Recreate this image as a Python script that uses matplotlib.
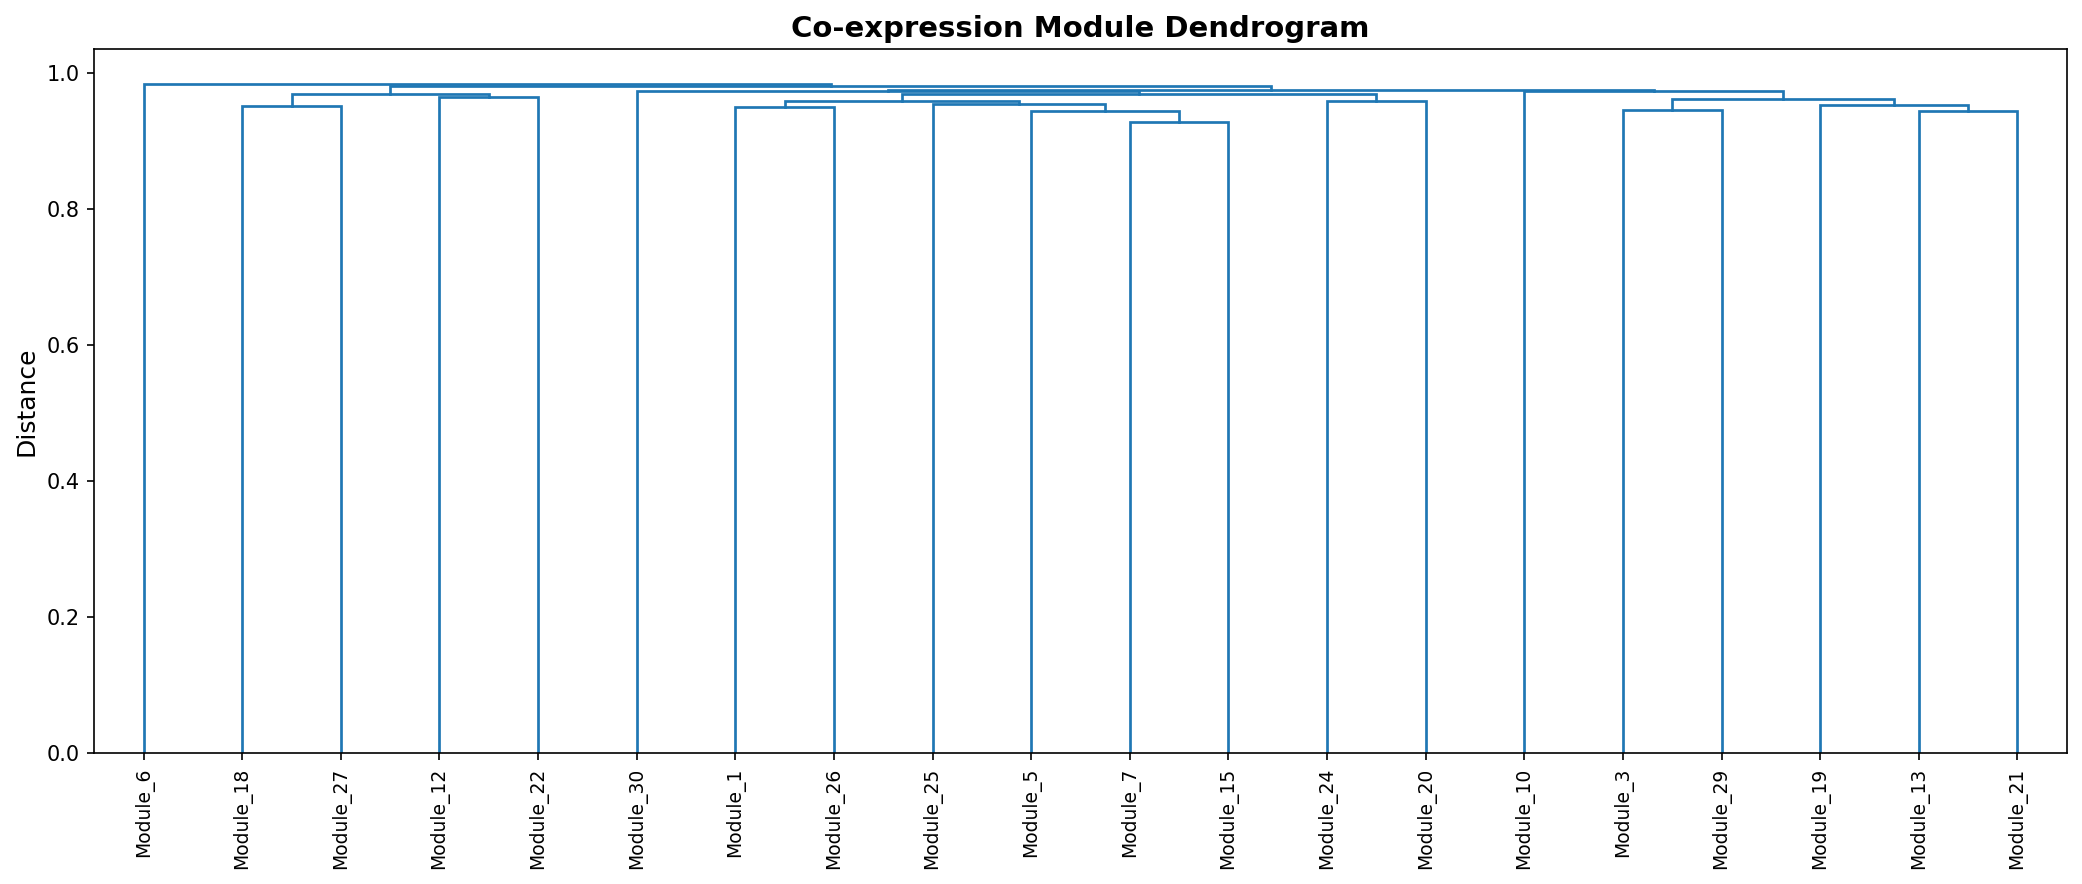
#!/usr/bin/env python3
# -*- coding: utf-8 -*-
import matplotlib

matplotlib.use("Agg")
import matplotlib.pyplot as plt

# Leaves in the order they appear left to right.
leaf_labels = ["Module_6", "Module_18", "Module_27", "Module_12", "Module_22",
               "Module_30", "Module_1", "Module_26", "Module_25", "Module_5",
               "Module_7", "Module_15", "Module_24", "Module_20", "Module_10",
               "Module_3", "Module_29", "Module_19", "Module_13", "Module_21"]

# Merges, linkage style: ids < 20 are leaves, merge k gets id 20 + k.
merge_left = [1, 3, 20, 6, 10, 9, 8, 23, 12, 27,
              5, 15, 18, 17, 31, 14, 30, 22, 0]
merge_right = [2, 4, 21, 7, 11, 24, 25, 26, 13, 28,
               29, 16, 19, 32, 33, 34, 35, 36, 37]
merge_height = [0.9508, 0.9650, 0.9694, 0.9493, 0.9273, 0.9434, 0.9537,
                0.9581, 0.9591, 0.9694, 0.9724, 0.9459, 0.9444, 0.9518,
                0.9620, 0.9730, 0.9746, 0.9804, 0.9841]


def __plot_dendrogram(ax):
  """画树状图 (没有 scipy, 手动画每个 U 形).

  Args:
    ax: 坐标轴.
  """
  n = len(leaf_labels)
  pos = {i: 5.0 + 10.0 * i for i in range(n)}
  height = {i: 0.0 for i in range(n)}

  for k, (l, r, h) in enumerate(zip(merge_left, merge_right, merge_height)):
    ax.plot([pos[l], pos[l], pos[r], pos[r]],
            [height[l], h, h, height[r]],
            color="#1f77b4", lw=1.3, solid_joinstyle="miter")
    pos[n + k] = (pos[l] + pos[r]) / 2
    height[n + k] = h

  ax.set_xlim(0, 10 * n)
  ax.set_ylim(0, 1.0344)
  ax.set_xticks([5 + 10 * i for i in range(n)])
  ax.set_xticklabels(leaf_labels, rotation=90, fontsize=9)
  ax.set_ylabel("Distance", fontsize=12)
  ax.set_title("Co-expression Module Dendrogram", fontsize=14,
               fontweight="bold")


def __cmd():
  fig = plt.figure(figsize=(2082 / 150, 884 / 150), dpi=150)
  ax = fig.add_axes([0.0453, 0.1485, 0.9474, 0.7957])
  __plot_dendrogram(ax)
  fig.savefig("out.png", dpi=150)


if __name__ == '__main__':
  __cmd()
